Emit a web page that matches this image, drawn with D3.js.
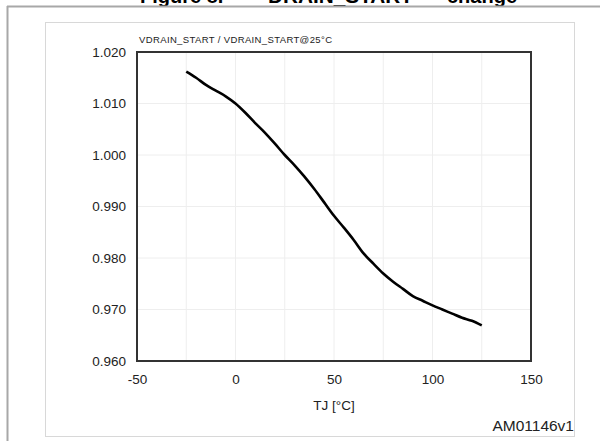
<!DOCTYPE html>
<html><head><meta charset="utf-8">
<script src="https://cdn.jsdelivr.net/npm/d3@7"></script>
<style>body{margin:0;background:#fff}svg{display:block;font-family:"Liberation Sans",Arial,sans-serif}</style>
</head><body><svg id="c" width="600" height="441"></svg>
<script>
const temps = [-25,-20,-15,-10,-5,0,5,10,15,20,25,30,35,40,45,50,55,60,65,70,75,80,85,90,95,100,105,110,115,120,125];
const ratio = [1.0162,1.0150,1.0136,1.0125,1.0114,1.0100,1.0082,1.0062,1.0043,1.0022,1.0000,0.9980,0.9958,0.9934,0.9908,0.9882,0.9859,0.9835,0.9809,0.9789,0.9770,0.9754,0.9740,0.9726,0.9717,0.9708,0.9700,0.9692,0.9684,0.9678,0.9669];
const xTicks = [-50,0,50,100,150];
const yTicks = [0.960,0.970,0.980,0.990,1.000,1.010,1.020];
const xGrid = [-25,25,75,125];

const svg = d3.select("#c");
const x = d3.scaleLinear().domain([-50,150]).range([137,531]);
const y = d3.scaleLinear().domain([0.960,1.020]).range([361,52]);

// title fragment (clipped at top, as in the reference)
const t = svg.append("text").attr("y",2.5).attr("font-weight","bold").attr("font-size",20).attr("fill","#000");
t.append("tspan").attr("x",140).text("Figure 8.");
t.append("tspan").attr("x",268).attr("textLength",145).attr("lengthAdjust","spacingAndGlyphs").text("DRAIN_START");
t.append("tspan").attr("x",447).text("change");

// outer frame
svg.append("line").attr("x1",7).attr("x2",600).attr("y1",6.5).attr("y2",6.5).attr("stroke","#a8a8a8").attr("stroke-width",2);
svg.append("line").attr("x1",7.5).attr("x2",7.5).attr("y1",6).attr("y2",441).attr("stroke","#a8a8a8").attr("stroke-width",2);
// inner box
svg.append("rect").attr("x",45.5).attr("y",22.5).attr("width",529).attr("height",414).attr("fill","none").attr("stroke","#d8d8d8").attr("stroke-width",1);

// grid
const g = svg.append("g");
g.selectAll(".gx").data(xTicks.slice(1,-1).concat(xGrid)).enter().append("line")
 .attr("x1",d=>x(d)).attr("x2",d=>x(d)).attr("y1",y(1.020)).attr("y2",y(0.960)).attr("stroke","#eeeeee");
g.selectAll(".gy").data(yTicks.slice(1,-1)).enter().append("line")
 .attr("x1",x(-50)).attr("x2",x(150)).attr("y1",d=>y(d)).attr("y2",d=>y(d)).attr("stroke","#eeeeee");

// axes
const xa = svg.append("g").attr("transform",`translate(0,${y(0.960)})`)
 .call(d3.axisBottom(x).tickValues(xTicks).tickSize(0).tickPadding(13).tickFormat(d=>String(d)));
const ya = svg.append("g").attr("transform",`translate(${x(-50)},0)`)
 .call(d3.axisLeft(y).tickValues(yTicks).tickSize(0).tickPadding(11).tickFormat(d3.format(".3f")));
[xa,ya].forEach(a=>{a.select(".domain").remove();a.selectAll("text").attr("font-size",13.5).attr("fill","#222").attr("font-family","Liberation Sans, Arial, sans-serif");});

// plot frame
svg.append("rect").attr("x",x(-50)).attr("y",y(1.020)).attr("width",x(150)-x(-50)).attr("height",y(0.960)-y(1.020))
 .attr("fill","none").attr("stroke","#333").attr("stroke-width",2);

// curve
svg.append("path").datum(temps.map((t,i)=>[t,ratio[i]]))
 .attr("d",d3.line().x(d=>x(d[0])).y(d=>y(d[1])).curve(d3.curveMonotoneX))
 .attr("fill","none").attr("stroke","#000").attr("stroke-width",2.6).attr("stroke-linejoin","round");

// labels
svg.append("text").attr("x",139).attr("y",43).attr("font-size",9.5).attr("fill","#222")
 .attr("textLength",193).attr("lengthAdjust","spacing")
 .text("VDRAIN_START / VDRAIN_START@25°C");
svg.append("text").attr("x",x(50)).attr("y",410).attr("text-anchor","middle").attr("font-size",13.5).attr("fill","#222").text("TJ [°C]");
svg.append("text").attr("x",574).attr("y",431).attr("text-anchor","end").attr("font-size",15.5).attr("fill","#222").text("AM01146v1");
</script></body></html>
